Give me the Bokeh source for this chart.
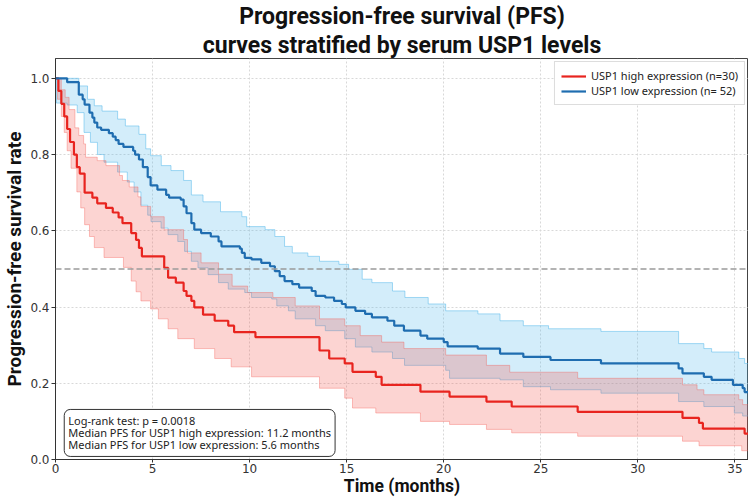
from bokeh.plotting import figure
from bokeh.models import Title, Label, Span, Range1d, FixedTicker
from bokeh.embed import file_html
from bokeh.resources import INLINE

# ---------------- data ----------------
x_ticks = [0, 5, 10, 15, 20, 25, 30, 35]
x_tick_labels = ["0", "5", "10", "15", "20", "25", "30", "35"]
y_ticks = [0.0, 0.2, 0.4, 0.6, 0.8, 1.0]
y_tick_labels = ["0.0", "0.2", "0.4", "0.6", "0.8", "1.0"]
t_end = 36.0

# USP1 high expression (n=30): Kaplan-Meier step curve
high_t = [0, 0.15, 0.3, 0.45, 0.6, 0.75, 0.95, 1.1, 1.25, 1.5, 1.9, 2.15, 2.6, 2.95, 3.25, 3.45,
          3.9, 4.15, 4.3, 4.45, 5.6, 5.8, 6.2, 6.6, 6.75, 7.0, 7.15, 7.6, 8.2, 8.9, 9.2, 10.3,
          13.6, 14.1, 14.9, 15.3, 16.5, 16.8, 18.8, 20.3, 22.2, 23.5, 26.9, 32.3, 33.15, 33.35, 35.5]
high_s = [1.0, 0.967, 0.933, 0.90, 0.867, 0.833, 0.80, 0.767, 0.75, 0.70, 0.687, 0.672, 0.660, 0.648,
          0.635, 0.62, 0.594, 0.576, 0.555, 0.533, 0.503, 0.477, 0.464, 0.442, 0.429, 0.416, 0.399,
          0.38, 0.364, 0.351, 0.334, 0.321, 0.286, 0.265, 0.252, 0.230, 0.217, 0.196, 0.178, 0.165,
          0.152, 0.139, 0.125, 0.109, 0.096, 0.081, 0.068]
# 95% CI of the high-expression group
high_up_t = [0, 0.3, 0.5, 0.7, 1.0, 1.2, 1.45, 1.55, 2.15, 2.6, 3.3, 3.45, 3.8, 4.25, 4.4, 4.9, 5.6,
             6.6, 6.8, 7.5, 8.4, 9.1, 9.9, 11.2, 12.35, 13.6, 14.9, 15.7, 16.8, 17.95, 20.1, 22.2,
             23.4, 26.9, 32.3, 33.05, 33.4, 35.2, 35.4]
high_up_v = [1.0, 0.97, 0.95, 0.918, 0.87, 0.85, 0.828, 0.793, 0.784, 0.771, 0.745, 0.732, 0.715,
             0.689, 0.664, 0.637, 0.603, 0.577, 0.542, 0.516, 0.486, 0.455, 0.438, 0.425, 0.403,
             0.369, 0.351, 0.325, 0.308, 0.291, 0.274, 0.247, 0.229, 0.213, 0.196, 0.183, 0.17,
             0.157, 0.144]
high_lo_t = [0, 0.1, 0.3, 0.45, 0.6, 0.8, 1.1, 1.3, 1.5, 1.75, 2.0, 2.5, 3.5, 3.9, 4.15, 4.4, 4.9,
             5.3, 5.8, 6.3, 7.15, 8.2, 9.05, 10.1, 13.6, 14.9, 15.3, 16.5, 18.8, 20.3, 22.2, 23.5,
             26.9, 32.3, 33.15, 35.35]
high_lo_v = [1.0, 0.945, 0.90, 0.858, 0.81, 0.764, 0.702, 0.66, 0.616, 0.585, 0.556, 0.53, 0.504,
             0.468, 0.44, 0.416, 0.395, 0.369, 0.343, 0.317, 0.291, 0.265, 0.243, 0.217, 0.187,
             0.161, 0.135, 0.122, 0.10, 0.092, 0.079, 0.07, 0.061, 0.048, 0.036, 0.023]

# USP1 low expression (n=52)
low_t = [0, 0.6, 1.2, 1.4, 1.5, 1.75, 1.9, 2.0, 2.15, 2.35, 2.75, 2.95, 3.1, 3.25, 3.5, 4.0, 4.1,
         4.3, 4.5, 4.75, 4.9, 5.25, 5.7, 5.85, 6.45, 6.6, 6.75, 7.0, 7.15, 7.5, 8.0, 8.4, 8.55, 9.5,
         9.6, 9.75, 10.1, 10.6, 11.05, 11.3, 11.55, 11.8, 12.2, 12.55, 13.2, 13.4, 13.9, 14.35,
         14.75, 14.95, 15.45, 15.95, 16.3, 17.1, 17.45, 17.95, 18.8, 19.15, 20.0, 20.2, 21.75,
         22.9, 24.1, 25.5, 28.1, 32.1, 32.3, 33.4, 33.8, 34.9, 35.4, 35.5]
low_s = [1.0, 0.99, 0.957, 0.945, 0.931, 0.91, 0.897, 0.884, 0.871, 0.865, 0.856, 0.847, 0.838,
         0.828, 0.82, 0.81, 0.80, 0.787, 0.767, 0.741, 0.719, 0.708, 0.694, 0.687, 0.682, 0.664,
         0.646, 0.62, 0.603, 0.594, 0.585, 0.572, 0.559, 0.553, 0.542, 0.529, 0.525, 0.516, 0.507,
         0.494, 0.481, 0.468, 0.46, 0.451, 0.442, 0.429, 0.425, 0.416, 0.408, 0.399, 0.39, 0.382,
         0.373, 0.364, 0.351, 0.338, 0.325, 0.317, 0.308, 0.297, 0.291, 0.278, 0.269, 0.261,
         0.252, 0.239, 0.226, 0.217, 0.209, 0.196, 0.187, 0.177]
low_up_t = [0, 1.2, 1.65, 2.0, 2.4, 3.2, 3.6, 4.3, 4.65, 4.9, 5.45, 5.95, 6.6, 7.0, 7.6, 8.5, 9.6,
            9.85, 10.8, 11.3, 11.8, 12.2, 13.0, 13.6, 14.6, 15.1, 15.8, 16.3, 17.36, 18.0, 19.2,
            20.1, 21.76, 22.9, 24.1, 25.4, 28.1, 32.1, 33.4, 33.8, 35.2, 35.5]
low_up_v = [1.0, 0.98, 0.945, 0.928, 0.914, 0.893, 0.875, 0.853, 0.815, 0.797, 0.771, 0.758, 0.732,
            0.694, 0.676, 0.65, 0.637, 0.611, 0.603, 0.585, 0.559, 0.542, 0.533, 0.52, 0.512, 0.499,
            0.473, 0.464, 0.442, 0.425, 0.408, 0.39, 0.382, 0.364, 0.351, 0.343, 0.336, 0.304,
            0.291, 0.282, 0.265, 0.252]
low_lo_t = [0, 0.05, 0.6, 1.12, 1.47, 1.8, 2.16, 2.5, 3.2, 3.7, 4.05, 4.4, 4.75, 4.92, 5.44, 5.8,
            6.3, 6.65, 7.0, 7.34, 7.86, 8.4, 8.9, 9.75, 10.1, 11.14, 11.4, 12.0, 12.35, 13.4, 13.9,
            14.9, 15.45, 16.3, 17.36, 17.98, 20.1, 20.3, 22.9, 24.1, 25.5, 28.1, 32.1, 33.4, 34.97,
            35.4]
low_lo_v = [1.0, 0.935, 0.93, 0.91, 0.858, 0.832, 0.80, 0.78, 0.754, 0.728, 0.702, 0.667, 0.641,
            0.624, 0.607, 0.59, 0.572, 0.546, 0.52, 0.503, 0.485, 0.464, 0.447, 0.438, 0.425, 0.421,
            0.403, 0.39, 0.369, 0.351, 0.338, 0.317, 0.295, 0.282, 0.265, 0.247, 0.234, 0.213,
            0.209, 0.191, 0.183, 0.174, 0.152, 0.139, 0.122, 0.114]

title_line1 = "Progression-free survival (PFS)"
title_line2 = "curves stratified by serum USP1 levels"
x_label = "Time (months)"
y_label = "Progression-free survival rate"
high_label = "USP1 high expression (n=30)"
low_label = "USP1 low expression (n= 52)"
stats_text = ("Log-rank test: p = 0.0018\n"
              "Median PFS for USP1 high expression: 11.2 months\n"
              "Median PFS for USP1 low expression: 5.6 months")
ref_level = 0.5

X_MAX = 35.7
Y_MAX = 1.052

RED = "#e8241f"
BLUE = "#1f6db0"
RED_FILL = "#f5544a"
BLUE_FILL = "#4fb8ec"
FONT = "Noto Sans"
TFONT = "Roboto"


def step_coords(ts, vs, end):
    xs, ys = [], []
    for i, (t, v) in enumerate(zip(ts, vs)):
        nxt = ts[i + 1] if i + 1 < len(ts) else end
        xs += [t, nxt]
        ys += [v, v]
    return xs, ys


def band(up_t, up_v, lo_t, lo_v, end):
    ux, uy = step_coords(up_t, up_v, end)
    lx, ly = step_coords(lo_t, lo_v, end)
    return ux + lx[::-1], uy + ly[::-1]


p = figure(width=748, height=498, output_backend="svg", toolbar_location=None,
           x_range=Range1d(0, X_MAX), y_range=Range1d(0, Y_MAX),
           min_border_left=55, min_border_right=0, min_border_top=57, min_border_bottom=36)

# two-line centred title (second line added first: it sits nearest the frame)
p.add_layout(Title(text=title_line2, align="center", text_font=TFONT, text_font_style="bold",
                   text_font_size="23px", text_color="#111111", standoff=0), "above")
p.add_layout(Title(text=title_line1, align="center", text_font=TFONT, text_font_style="bold",
                   text_font_size="23px", text_color="#111111", standoff=0), "above")

# confidence bands
bx, by = band(low_up_t, low_up_v, low_lo_t, low_lo_v, t_end)
p.patch(bx, by, fill_color=BLUE_FILL, fill_alpha=0.25, line_color=BLUE_FILL, line_alpha=0.5,
        line_width=1)
rx, ry = band(high_up_t, high_up_v, high_lo_t, high_lo_v, t_end)
p.patch(rx, ry, fill_color=RED_FILL, fill_alpha=0.25, line_color=RED_FILL, line_alpha=0.35,
        line_width=1)

p.add_layout(Span(location=ref_level, dimension="width", line_color="#9a9a9a",
                  line_dash="6 3", line_width=1.5))

p.step(high_t + [t_end], high_s + [high_s[-1]], mode="after", line_color=RED, line_width=2.2,
       legend_label=high_label)
p.step(low_t + [t_end], low_s + [low_s[-1]], mode="after", line_color=BLUE, line_width=2.2,
       legend_label=low_label)

# axes
p.xaxis.ticker = FixedTicker(ticks=x_ticks)
p.yaxis.ticker = FixedTicker(ticks=y_ticks)
p.xaxis.major_label_overrides = {t: l for t, l in zip(x_ticks, x_tick_labels)}
p.yaxis.major_label_overrides = {t: l for t, l in zip(y_ticks, y_tick_labels)}
for ax in (p.xaxis, p.yaxis):
    ax.axis_label_text_font = TFONT
    ax.axis_label_text_font_style = "bold"
    ax.axis_label_text_color = "#111111"
    ax.major_label_text_font = "DejaVu Sans"
    ax.major_label_text_font_size = "12px"
    ax.major_label_text_color = "#333333"
    ax.axis_line_color = "#333333"
    ax.major_tick_line_color = "#333333"
    ax.major_tick_out = 4
    ax.major_tick_in = 0
    ax.minor_tick_out = 0
    ax.minor_tick_in = 0
    ax.major_label_standoff = 2
    ax.axis_label_standoff = 1
p.xaxis.major_tick_out = 3
p.xaxis.major_label_standoff = 1
p.xaxis.axis_label_standoff = 0
p.xaxis.axis_label_text_font_size = "17.5px"
p.yaxis.axis_label_text_font_size = "19px"
p.xaxis.axis_label = x_label
p.yaxis.axis_label = y_label

p.xgrid.ticker = FixedTicker(ticks=x_ticks)
p.ygrid.ticker = FixedTicker(ticks=y_ticks)
p.grid.grid_line_color = "#d8d8d8"
p.grid.grid_line_dash = "2 2"
p.grid.grid_line_width = 1
p.outline_line_color = "#444444"
p.outline_line_width = 1

# legend
lg = p.legend[0]
lg.location = "top_right"
lg.label_text_font = FONT
lg.label_text_font_size = "11px"
lg.label_text_color = "#222222"
lg.glyph_width = 25
lg.glyph_height = 12
lg.label_height = 12
lg.spacing = 0
lg.padding = 6
lg.margin = 3
lg.border_line_color = "#bbbbbb"
lg.background_fill_alpha = 1.0

# statistics box
p.add_layout(Label(x=0.45, y=0.008, text=stats_text, text_font=FONT, text_font_size="11px",
                   text_color="#222222", text_line_height=0.8, anchor="bottom_left",
                   background_fill_color="white", background_fill_alpha=1.0,
                   border_line_color="#333333", border_line_width=1, padding=4,
                   border_radius=6))

open("out.html", "w").write(file_html(p, INLINE))
